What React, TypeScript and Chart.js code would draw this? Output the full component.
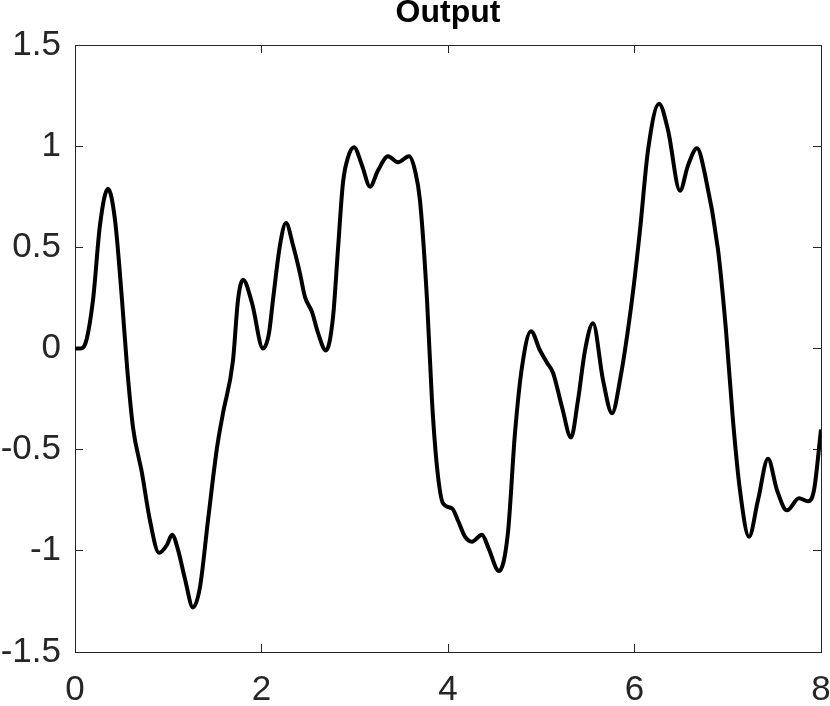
import React, { useEffect, useRef } from "react";
import { Chart, registerables } from "chart.js";

Chart.register(...registerables);

const titleText = "Output";
const xMin = 0;
const xMax = 8;
const xStep = 2;
const yMin = -1.5;
const yMax = 1.5;
const yStep = 0.5;

const timeValues = [
  0, 0.054, 0.107, 0.193, 0.268, 0.354, 0.429, 0.504, 0.558, 0.622,
  0.718, 0.804, 0.901, 0.987, 1.04, 1.105, 1.18, 1.265, 1.34, 1.426,
  1.523, 1.587, 1.694, 1.748, 1.802, 1.898, 2.016, 2.08, 2.123, 2.198,
  2.263, 2.338, 2.413, 2.466, 2.542, 2.606, 2.692, 2.767, 2.82, 2.874,
  2.928, 2.992, 3.078, 3.164, 3.249, 3.357, 3.464, 3.582, 3.646, 3.7,
  3.775, 3.828, 3.882, 3.946, 4.043, 4.107, 4.182, 4.257, 4.365, 4.429,
  4.547, 4.643, 4.718, 4.794, 4.89, 4.987, 5.062, 5.126, 5.223, 5.319,
  5.394, 5.469, 5.555, 5.662, 5.759, 5.845, 5.973, 6.059, 6.145, 6.263,
  6.359, 6.488, 6.574, 6.67, 6.756, 6.895, 6.981, 7.056, 7.131, 7.228,
  7.324, 7.432, 7.528, 7.635, 7.764, 7.861, 7.925, 8.0,
];

const outputValues = [
  0, 0, 0.02, 0.24, 0.61, 0.79, 0.635, 0.24, -0.09, -0.39,
  -0.615, -0.85, -1.01, -0.97, -0.92, -0.995, -1.14, -1.28, -1.18, -0.85,
  -0.49, -0.32, -0.06, 0.24, 0.34, 0.225, 0.0, 0.075, 0.24, 0.51,
  0.62, 0.51, 0.37, 0.255, 0.18, 0.077, -0.01, 0.155, 0.49, 0.82,
  0.945, 0.995, 0.905, 0.8, 0.88, 0.95, 0.92, 0.95, 0.88, 0.73,
  0.24, -0.255, -0.585, -0.765, -0.79, -0.85, -0.93, -0.955, -0.92, -0.98,
  -1.1, -0.91, -0.42, -0.09, 0.085, -0.01, -0.07, -0.12, -0.29, -0.44,
  -0.255, -0.01, 0.125, -0.155, -0.32, -0.155, 0.24, 0.585, 0.98, 1.21,
  1.08, 0.78, 0.905, 0.99, 0.86, 0.49, 0.09, -0.355, -0.7, -0.93,
  -0.75, -0.545, -0.7, -0.8, -0.74, -0.755, -0.7, -0.4,
];

const AXIS_COLOR = "#262626";
const FONT = "'Liberation Sans', Arial, Helvetica, sans-serif";

export default function App() {
  const canvasRef = useRef<HTMLCanvasElement | null>(null);

  useEffect(() => {
    const canvas = canvasRef.current;
    if (!canvas) return;
    const points = timeValues.map((t, i) => ({ x: t, y: outputValues[i] }));

    const gridOpts = {
      display: true,
      drawOnChartArea: false,
      drawTicks: true,
      tickLength: -8,
      color: AXIS_COLOR,
      lineWidth: 1,
    };
    const borderOpts = { display: true, color: AXIS_COLOR, width: 1 };

    const chart = new Chart(canvas, {
      type: "line",
      data: {
        datasets: [
          {
            data: points,
            borderColor: "#000000",
            borderWidth: 4,
            pointRadius: 0,
            fill: false,
            cubicInterpolationMode: "monotone",
          },
        ],
      },
      options: {
        responsive: false,
        animation: false,
        layout: { padding: { left: 0, right: 9, top: 0, bottom: 0 } },
        plugins: {
          legend: { display: false },
          tooltip: { enabled: false },
          title: {
            display: true,
            text: titleText,
            fullSize: false,
            color: "#000000",
            font: { family: FONT, size: 32, weight: "bold", lineHeight: 0.8 },
            padding: { top: 0, bottom: 19.4 },
          },
        },
        scales: {
          x: {
            type: "linear",
            position: "bottom",
            min: xMin,
            max: xMax,
            grid: gridOpts,
            border: borderOpts,
            ticks: {
              stepSize: xStep,
              color: AXIS_COLOR,
              font: { family: FONT, size: 35 },
              padding: 25,
              maxRotation: 0,
              callback: (v: any) => String(v),
            },
            afterFit: (s: any) => {
              s.height = 54;
              s.paddingLeft = 0;
              s.paddingRight = 0;
            },
          },
          x2: {
            type: "linear",
            position: "top",
            min: xMin,
            max: xMax,
            grid: gridOpts,
            border: borderOpts,
            ticks: { stepSize: xStep, display: false },
            afterFit: (s: any) => {
              s.height = 0;
              s.paddingLeft = 0;
              s.paddingRight = 0;
            },
          },
          y: {
            type: "linear",
            position: "left",
            min: yMin,
            max: yMax,
            grid: gridOpts,
            border: borderOpts,
            ticks: {
              stepSize: yStep,
              color: AXIS_COLOR,
              font: { family: FONT, size: 35 },
              padding: 22,
              callback: (v: any) => String(v),
            },
            afterFit: (s: any) => {
              s.width = 75;
              s.paddingTop = 0;
              s.paddingBottom = 0;
            },
          },
          y2: {
            type: "linear",
            position: "right",
            min: yMin,
            max: yMax,
            grid: gridOpts,
            border: borderOpts,
            ticks: { stepSize: yStep, display: false },
            afterFit: (s: any) => {
              s.width = 0;
              s.paddingTop = 0;
              s.paddingBottom = 0;
            },
          },
        },
      },
    } as any);

    return () => chart.destroy();
  }, []);

  return (
    <div style={{ position: "absolute", left: 0, top: 0, width: 830, height: 706, background: "#ffffff" }}>
      <canvas ref={canvasRef} width={830} height={706} style={{ display: "block" }} />
    </div>
  );
}
